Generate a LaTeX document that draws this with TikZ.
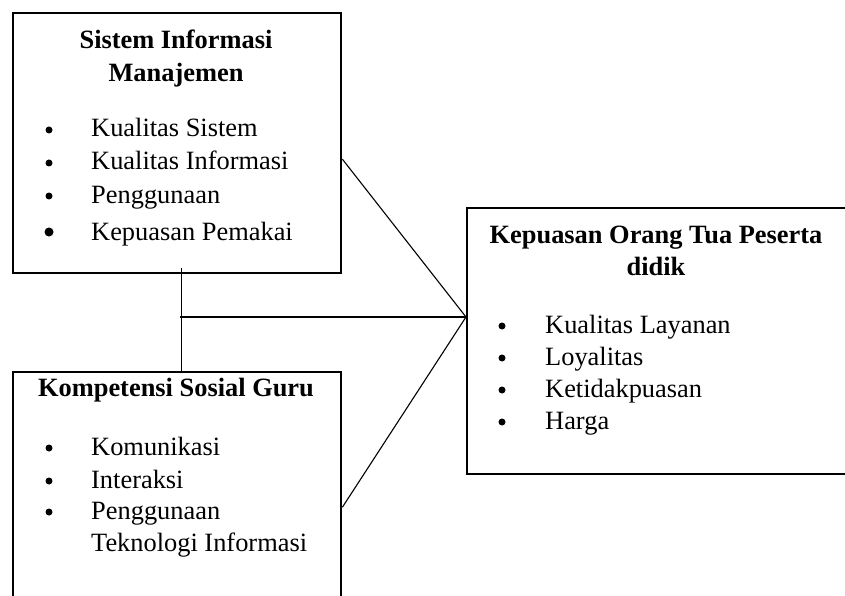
\documentclass[tikz,border=0pt]{standalone}
\usepackage{fontspec}
\setmainfont{Liberation Serif}
\usetikzlibrary{positioning}

\begin{document}
\begin{tikzpicture}[x=1pt, y=-1pt,
                    kotak/.style={draw, line width=2.4pt, anchor=north west, inner sep=0pt},
                    judul/.style={font=\fontsize{26.4}{32}\selectfont\bfseries, anchor=base, inner sep=0pt},
                    butir/.style={font=\fontsize{26.4}{32}\selectfont, anchor=base west, inner sep=0pt},
                    titik/.style={circle, fill, inner sep=0pt, minimum size=7pt},
                    garis/.style={line width=1.1pt}]
        \clip (0,0) rectangle (845,596);
        % kotak
        \node[kotak, minimum width=328pt, minimum height=260pt] (sim) at (12,12) {};
        \node[kotak, minimum width=328pt, minimum height=240pt] (kom) at (12,371) {};
        \node[kotak, minimum width=400pt, minimum height=266pt] (kep) at (466,207) {};
        % judul
        \node[judul] (sim-j1) at (176,49) {Sistem Informasi};
        \node[judul] (sim-j2) at (176,82) {Manajemen};
        \node[judul] (kom-j) at (176,396) {Kompetensi Sosial Guru};
        \node[judul] (kep-j1) at (656,243) {Kepuasan Orang Tua Peserta};
        \node[judul] (kep-j2) at (656,275) {didik};
        % butir
        \foreach \yy/\teks [count=\i] in {137/Kualitas Sistem, 170/Kualitas Informasi, 203/Penggunaan} {
            \node[titik] (sim-t\i) at (49,\yy-7) {};
            \node[butir] (sim-b\i) at (91,\yy) {\teks};
        }
        \node[titik, minimum size=9pt] (sim-t4) at (49,232) {};
        \node[butir] (sim-b4) at (91,240) {Kepuasan Pemakai};
        \foreach \yy/\teks [count=\i] in {455/Komunikasi, 488/Interaksi, 519/Penggunaan} {
            \node[titik] (kom-t\i) at (49,\yy-7) {};
            \node[butir] (kom-b\i) at (91,\yy) {\teks};
        }
        \node[butir] (kom-b4) at (91,551) {Teknologi Informasi};
        \foreach \yy/\teks [count=\i] in {333/Kualitas Layanan, 365/Loyalitas, 397/Ketidakpuasan, 429/Harga} {
            \node[titik] (kep-t\i) at (502,\yy-7) {};
            \node[butir] (kep-b\i) at (545,\yy) {\teks};
        }
        % garis
        \coordinate (temu) at (466,317);
        \coordinate (cabang) at (180,317);
        \draw[garis] ([xshift=4pt, yshift=6pt]sim.south) -- ([xshift=4pt, yshift=-2pt]kom.north);
        \draw[garis] (cabang) -- (temu);
        \draw[garis] ([yshift=-16pt]sim.east) -- (temu);
        \draw[garis] ([yshift=-15pt]kom.east) -- (temu);
\end{tikzpicture}
\end{document}
